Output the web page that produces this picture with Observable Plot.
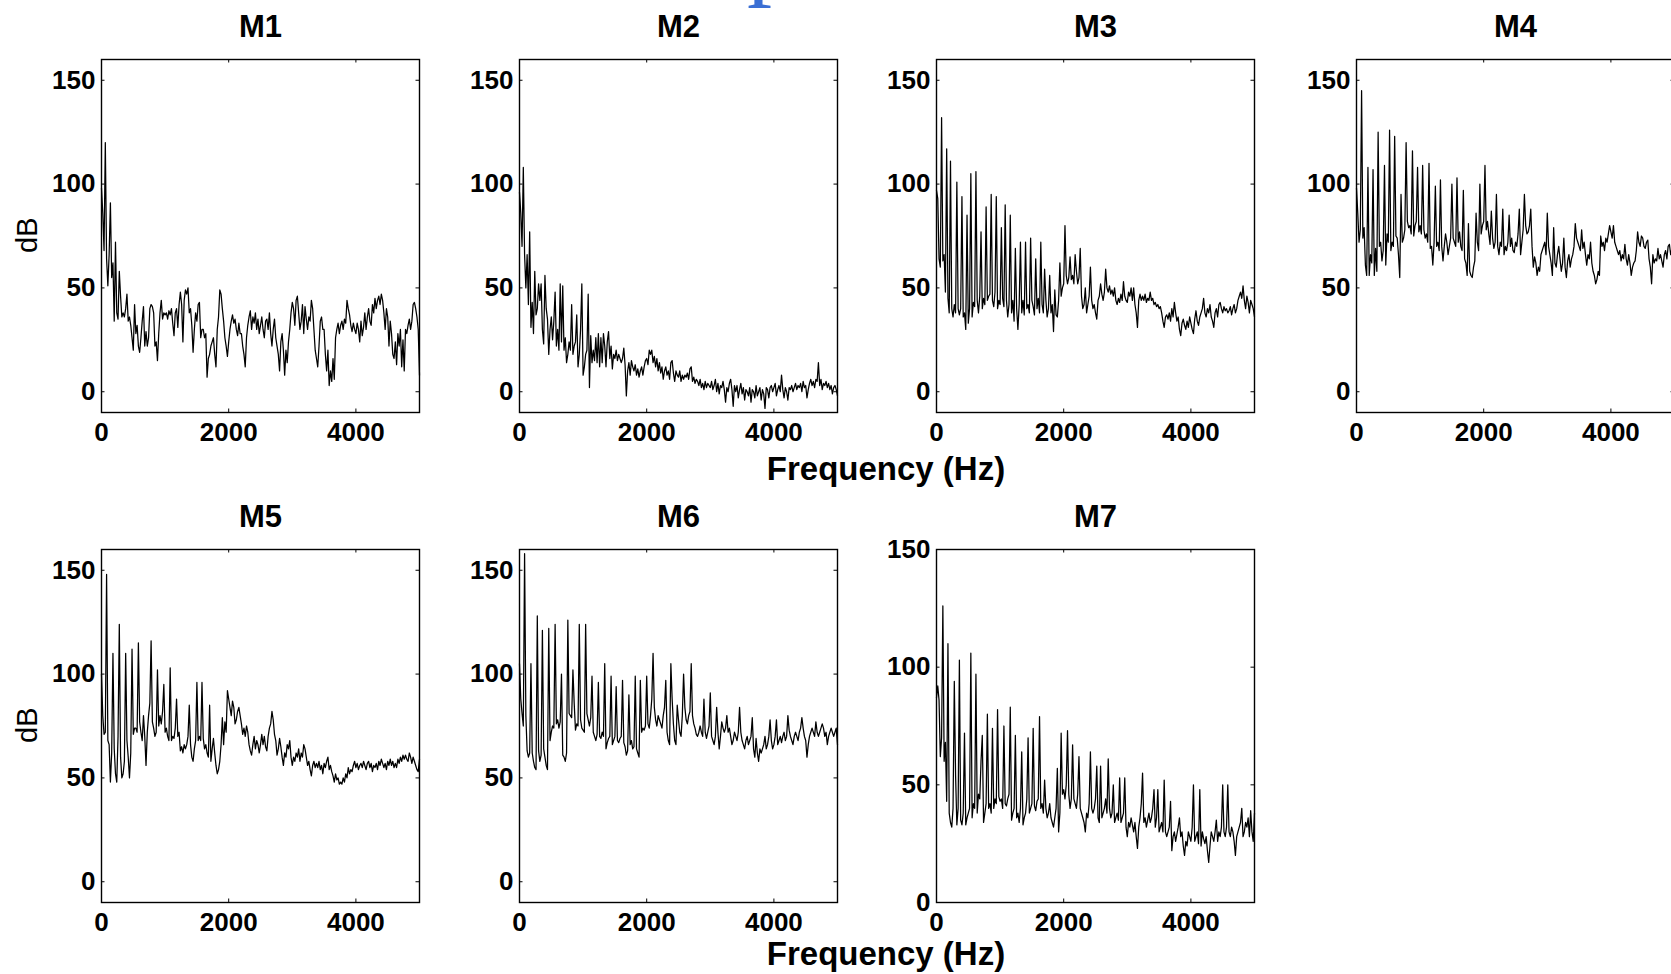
<!DOCTYPE html>
<html>
<head>
<meta charset="utf-8">
<script src="https://cdn.jsdelivr.net/npm/d3@7"></script>
<script src="https://cdn.jsdelivr.net/npm/@observablehq/plot@0.6"></script>
<style>
  html, body { margin: 0; padding: 0; background: #fff; }
  #page { position: relative; width: 1671px; height: 974px; overflow: hidden; background: #fff; }
  .flabel { position: absolute; font-family: "Liberation Sans", Arial, Helvetica, sans-serif; font-weight: bold; font-size: 33px; line-height: 33px; white-space: nowrap; transform: translateX(-50%); color: #000; }
  .bluep { position: absolute; font-family: "Liberation Serif", "Times New Roman", serif; font-size: 100px; line-height: 100px; color: #3b6fd4; }
</style>
</head>
<body>
<div id="page"></div>
<script>
// ---------- data (dB values sampled every 20 Hz, 0..5000 Hz) ----------
const panelNames = ["M1", "M2", "M3", "M4", "M5", "M6", "M7"];
const xTicks = [0, 2000, 4000];
const yTicksMain = [0, 50, 100, 150];
const yTicksM7 = [0, 50, 100, 150];
const freqStepHz = 20;
const xLabel = "Frequency (Hz)";
const yLabel = "dB";

const m1dB = [
98,86,68,120,64,51,66,91,55,62,
34,72,38,35,58,46,36,38,36,40,
47,34,36,32,26,20,42,28,32,22,
19,26,34,41,22,29,22,26,40,42,
41,38,22,24,15,28,38,44,35,38,
37,38,35,39,37,40,33,27,38,40,
31,42,48,42,24,44,49,47,50,38,
40,32,19,30,38,34,42,43,26,30,
30,26,28,7,16,18,22,24,26,18,
12,30,36,49,47,40,34,26,22,17,
24,30,34,37,33,35,30,27,33,28,
28,22,18,12,26,32,36,39,30,36,
33,38,30,35,28,32,36,30,26,34,
35,30,38,28,22,30,35,26,22,18,
10,24,28,20,8,20,14,24,30,38,
43,40,32,44,46,38,30,34,42,28,
41,35,30,36,34,44,40,30,20,16,
12,22,34,36,30,30,18,10,20,3,
10,5,16,6,26,30,33,28,32,34,
30,35,33,44,40,37,32,29,33,30,
28,33,30,24,34,27,31,38,30,36,
40,34,32,42,38,45,40,44,46,42,
47,44,38,30,40,36,22,34,28,18,
16,24,13,28,22,30,12,25,10,30,
28,32,35,30,34,42,43,40,36,30,
8];

const m2dB = [
96,86,70,108,66,50,66,42,77,31,
43,28,58,37,40,52,44,52,30,23,
56,40,35,18,30,36,25,34,48,22,
30,20,52,24,51,20,26,14,18,24,
20,42,18,22,24,37,12,18,30,52,
8,12,18,20,47,2,27,14,20,15,
26,14,28,12,26,14,28,22,12,24,
29,16,22,11,18,16,20,15,18,16,
14,16,21,13,-2,10,14,8,15,12,
10,13,8,11,7,10,12,8,12,15,
16,13,20,18,20,14,17,12,16,10,
14,9,12,6,10,12,8,10,6,14,
15,9,5,10,8,7,10,5,8,6,
8,7,9,6,11,12,5,7,4,6,
5,3,6,2,4,1,5,2,4,3,
2,5,1,3,6,0,4,-1,3,2,
5,1,-5,2,0,4,6,1,-7,3,
0,3,-3,1,4,-1,2,-4,1,0,
-2,2,-5,1,0,-3,3,-2,0,2,
-4,1,-1,-8,2,1,-3,2,3,0,
2,4,-2,1,3,0,8,1,-3,2,
0,-4,2,1,3,0,2,4,1,3,
2,4,0,5,2,3,-3,1,4,6,
3,5,2,6,5,14,3,6,1,4,
3,5,2,4,1,3,-1,2,3,1,
-2];

const m3dB = [
97,93,64,60,132,63,66,48,117,45,
38,111,40,36,42,38,101,40,37,40,
94,36,38,30,85,33,40,105,36,43,
41,106,44,38,46,77,40,45,42,89,
44,46,47,95,44,41,48,94,40,44,
42,79,45,41,90,44,36,42,85,38,
44,34,69,40,30,42,72,38,44,37,
72,40,42,38,74,44,41,37,64,40,
45,38,72,42,38,59,44,36,40,56,
38,42,29,49,37,36,44,62,46,50,
52,80,56,52,55,65,54,56,52,66,
58,52,55,69,46,40,42,50,38,42,
46,60,44,40,42,38,35,44,46,52,
47,44,48,59,50,48,51,47,49,46,
50,44,42,45,43,47,44,53,46,44,
43,48,46,50,44,50,42,38,31,44,
47,44,46,44,47,43,45,44,48,44,
45,42,43,41,42,40,41,38,34,31,
36,37,35,38,34,40,36,43,38,34,
36,30,27,33,35,32,30,34,31,36,
33,30,28,35,39,34,32,36,38,40,
45,38,36,40,38,42,36,34,31,38,
40,36,42,43,40,38,41,39,40,38,
39,41,37,40,42,38,40,44,46,48,
45,51,44,40,46,43,38,44,42,40,
36];

const m4dB = [
98,86,72,78,145,74,79,61,56,108,
56,66,62,107,56,69,58,125,70,72,
63,68,109,61,76,72,126,68,72,70,
123,75,74,66,55,95,72,74,78,120,
82,79,80,76,116,75,80,82,108,77,
80,76,109,78,74,76,72,110,69,70,
61,72,99,70,72,68,102,70,63,70,
76,72,66,70,74,100,74,72,70,103,
72,77,70,68,97,64,62,56,81,58,
56,55,60,63,86,72,68,100,76,80,
82,109,78,82,76,71,87,74,69,72,
95,70,66,72,70,88,66,70,68,72,
85,70,74,68,67,72,70,76,88,66,
72,78,95,80,76,77,80,88,70,60,
65,62,56,60,58,66,68,70,72,66,
86,70,66,62,56,79,62,60,66,70,
64,58,62,74,60,55,63,66,60,64,
66,70,81,74,72,70,68,78,69,72,
66,61,66,64,72,62,58,56,52,54,
58,56,75,70,72,68,74,72,76,80,
77,74,80,72,70,68,66,68,63,66,
64,71,64,61,66,62,56,60,62,63,
68,77,72,70,75,74,70,69,72,73,
64,60,52,66,62,64,63,69,64,66,
63,60,66,68,64,70,71,66,69,70,
64];

const m5dB = [
100,80,71,72,148,68,66,48,62,110,
64,52,48,70,124,60,50,52,58,110,
68,60,50,62,112,71,74,74,72,115,
77,72,68,80,70,56,72,80,86,116,
77,74,70,72,102,75,80,76,82,95,
72,74,70,68,103,68,70,69,74,88,
70,72,63,65,62,66,64,66,70,85,
66,60,58,64,68,96,68,70,68,96,
69,64,66,62,60,85,58,64,69,62,
56,52,54,58,66,79,66,77,72,92,
88,84,80,87,84,76,78,82,84,80,
76,71,74,70,75,72,66,63,61,66,
70,64,68,66,62,66,71,66,70,65,
63,70,74,76,82,78,71,68,61,64,
69,65,60,56,62,60,66,64,68,60,
56,60,58,62,60,64,58,62,60,66,
64,60,56,58,54,51,56,58,55,57,
55,58,54,56,52,57,55,58,60,54,
56,53,51,48,52,49,50,47,48,47,
50,48,52,50,55,52,54,53,56,58,
55,57,54,56,57,55,58,56,54,57,
58,55,57,53,56,55,57,54,58,56,
59,57,55,57,54,58,56,59,56,58,
55,57,55,59,57,60,58,61,59,61,
59,58,62,60,57,60,58,56,54,53,
59];

const m6dB = [
105,88,81,75,158,80,63,60,62,105,
62,58,55,54,128,63,58,61,121,64,
60,56,54,122,68,72,75,74,124,76,
78,74,77,100,61,60,58,62,126,81,
80,79,102,86,73,76,75,124,78,74,
73,72,124,81,78,75,79,99,72,70,
68,71,96,70,69,72,70,105,64,67,
69,70,99,66,68,70,94,68,67,69,
70,97,67,65,61,63,90,66,68,64,
65,99,64,62,60,97,72,74,73,75,
99,76,74,80,88,110,84,78,75,80,
78,76,74,80,84,97,72,68,66,105,
88,76,68,66,85,78,72,70,80,100,
84,78,76,80,82,105,80,76,74,71,
70,72,75,72,70,88,72,69,72,75,
91,70,68,66,70,84,72,64,70,77,
74,72,74,80,72,74,70,66,68,72,
70,68,72,84,72,68,66,64,68,70,
66,68,70,79,64,60,69,62,58,64,
62,64,66,70,64,66,70,78,68,64,
66,70,78,66,68,70,67,70,72,68,
70,80,73,70,68,66,70,72,70,68,
72,74,79,74,70,68,60,66,70,72,
74,72,70,77,72,70,72,74,76,74,
70,72,66,70,72,74,72,70,72,74,
66];

const m7dB = [
87,92,86,62,70,126,60,68,43,110,
38,34,32,40,94,54,33,40,103,35,
33,38,72,33,36,38,40,106,36,42,
40,97,38,46,44,60,71,34,38,42,
80,40,42,38,74,40,44,42,82,45,
43,44,40,75,42,41,44,46,83,35,
38,40,71,36,38,34,40,64,33,36,
38,44,70,38,40,42,74,41,39,43,
44,79,40,42,38,52,40,36,38,42,
36,34,32,36,40,57,30,38,72,46,
48,44,50,73,46,40,44,67,44,42,
40,46,62,40,38,36,34,30,38,36,
42,64,40,38,40,44,58,36,34,58,
36,38,40,44,38,61,40,36,38,50,
34,36,38,35,53,34,36,38,53,32,
28,34,32,36,33,30,34,28,23,32,
36,42,55,34,36,32,35,38,34,36,
40,48,32,36,48,30,32,34,30,52,
30,28,30,32,43,22,28,30,26,29,
32,36,28,30,24,20,26,24,30,28,
26,32,50,26,28,30,25,48,24,30,
27,25,28,22,17,24,30,28,26,30,
35,26,30,28,32,50,30,28,32,50,
30,28,32,30,26,20,28,30,32,34,
40,28,30,34,32,36,28,39,30,26,
38];

const seriesByPanel = [m1dB, m2dB, m3dB, m4dB, m5dB, m6dB, m7dB];
const yDomains = [[-10,160],[-10,160],[-10,160],[-10,160],[-10,160],[-10,160],[0,150]];
const yTickSets = [yTicksMain, yTicksMain, yTicksMain, yTicksMain, yTicksMain, yTicksMain, yTicksM7];

// ---------- layout ----------
const FONT = '"Liberation Sans", Arial, Helvetica, sans-serif';
const frameW = 318, frameH = 353;
const ML = 100, MR = 12, MT = 60, MB = 50;
const colLeft = [101, 519, 936, 1356];
const rowTop = [59, 549];
const xMax = 5000;

const page = document.getElementById("page");

function makePanel(k) {
  const vals = seriesByPanel[k];
  const data = vals.map((v, i) => ({f: i * freqStepHz, db: v}));
  const yd = yDomains[k];
  const yt = yTickSets[k];
  const dxT = xMax * 3.5 / frameW;
  const dyT = (yd[1] - yd[0]) * 3.5 / frameH;
  const col = k < 4 ? k : k - 4;
  const row = k < 4 ? 0 : 1;
  const marks = [
    Plot.ruleY(yt, {x1: 0, x2: dxT, stroke: "black", strokeWidth: 1}),
    Plot.ruleY(yt, {x1: xMax - dxT, x2: xMax, stroke: "black", strokeWidth: 1}),
    Plot.ruleX(xTicks, {y1: yd[0], y2: yd[0] + dyT, stroke: "black", strokeWidth: 1}),
    Plot.ruleX(xTicks, {y1: yd[1] - dyT, y2: yd[1], stroke: "black", strokeWidth: 1}),
    Plot.line(data, {x: "f", y: "db", stroke: "black", strokeWidth: 1.25}),
    Plot.frame({stroke: "black", strokeWidth: 1.4}),
    Plot.axisX(xTicks, {tickSize: 0, tickPadding: 10, label: null, tickFormat: d => String(d), fontSize: 26, fontWeight: "bold"}),
    Plot.axisY(yt, {tickSize: 0, tickPadding: 6, label: null, tickFormat: d => String(d), fontSize: 26, fontWeight: "bold"}),
    Plot.text([panelNames[k]], {frameAnchor: "top", dy: -23, lineAnchor: "bottom", fontSize: 31, fontWeight: "bold", fill: "black"})
  ];
  if (col === 0) {
    marks.push(Plot.text([yLabel], {frameAnchor: "left", dx: -74, dy: 17, rotate: -90, fontSize: 29, fontWeight: "normal", fill: "black"}));
  }
  const svg = Plot.plot({
    width: frameW + ML + MR,
    height: frameH + MT + MB,
    marginLeft: ML, marginRight: MR, marginTop: MT, marginBottom: MB,
    x: {domain: [0, xMax]},
    y: {domain: yd},
    style: {background: "transparent", fontFamily: FONT, color: "black", overflow: "visible"},
    marks
  });
  svg.style.position = "absolute";
  svg.style.left = (colLeft[col] - ML) + "px";
  svg.style.top = (rowTop[row] - MT) + "px";
  svg.style.maxWidth = "none";
  page.appendChild(svg);
}

for (let k = 0; k < 7; k++) makePanel(k);

// shared x-axis labels
[452, 937].forEach(top => {
  const d = document.createElement("div");
  d.className = "flabel";
  d.textContent = xLabel;
  d.style.left = "886px";
  d.style.top = top + "px";
  page.appendChild(d);
});

// cut-off glyph of a slide title above the figure
const p = document.createElement("div");
p.className = "bluep";
p.textContent = "p";
p.style.left = "747px";
p.style.top = "-96px";
page.appendChild(p);
</script>
</body>
</html>
